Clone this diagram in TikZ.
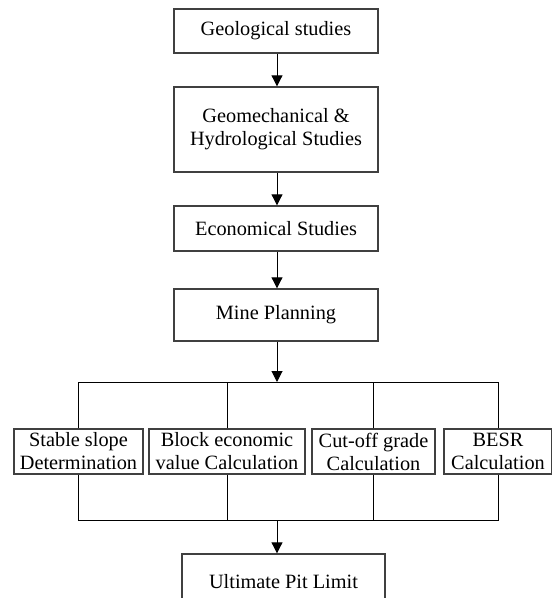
\documentclass[tikz,border=0pt]{standalone}
\usepackage{fontspec}
\setmainfont{Liberation Serif}
\usetikzlibrary{arrows.meta}
\begin{document}
\begin{tikzpicture}[x=1pt, y=1pt,
        box/.style={rectangle, draw=black!75, line width=1.4pt, align=center, inner sep=0pt, font=\fontsize{20.3}{23}\selectfont},
        arr/.style={-{Triangle[length=11pt, width=11pt]}, line width=1pt},
        bus/.style={line width=1pt}]
        \useasboundingbox (0, 0) rectangle (552, -598);
        \node (geo) at (276, -31) [box, minimum width=204pt, minimum height=44pt] {Geological studies};
        \node (geomech) at (276, -129.5) [box, minimum width=204pt, minimum height=85pt] {Geomechanical \&\\Hydrological Studies};
        \node (econ) at (276, -228.5) [box, minimum width=204pt, minimum height=45pt] {Economical Studies};
        \node (mine) at (276, -315) [box, minimum width=204pt, minimum height=52pt] {Mine Planning};
         
        \node (stable) at (78.5, -451.5) [box, minimum width=129pt, minimum height=45pt] {Stable slope\\Determination};
        \node (block) at (227, -451.5) [box, minimum width=156pt, minimum height=45pt] {Block economic\\value Calculation};
        \node (cutoff) at (373.5, -451.5) [box, minimum width=123pt, minimum height=45pt] {Cut-off grade\\Calculation};
        \node (besr) at (498, -451.5) [box, minimum width=108pt, minimum height=45pt] {BESR\\Calculation};
         
        \node (ultimate) at (283.5, -582) [box, minimum width=203pt, minimum height=56pt] {Ultimate Pit Limit};
         
        \coordinate (top) at (277, -382);
        \coordinate (bot) at (277, -520);
         
        \draw[arr] (geo.south -| top) -- (geomech.north -| top);
        \draw[arr] (geomech.south -| top) -- (econ.north -| top);
        \draw[arr] (econ.south -| top) -- (mine.north -| top);
        \draw[arr] (mine.south -| top) -- (top);
        \foreach \n in {stable, block, cutoff, besr}
            \draw[bus] (\n.north) |- (top) (\n.south) |- (bot);
        \draw[arr] (bot) -- (bot |- ultimate.north);
    \end{tikzpicture}
\end{document}
